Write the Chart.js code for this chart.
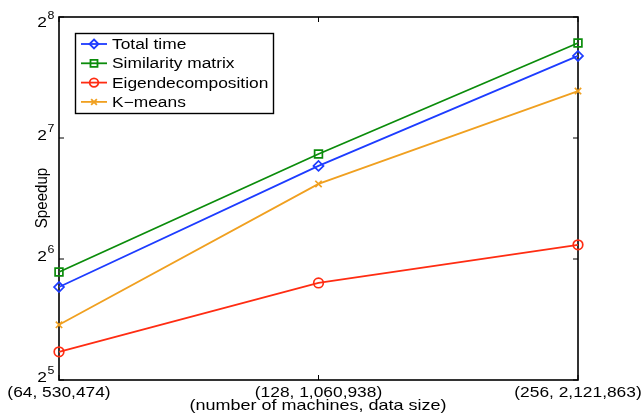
<!DOCTYPE html>
<html>
<head>
<meta charset="utf-8">
<script src="https://cdn.jsdelivr.net/npm/chart.js@4"></script>
<style>
	html, body { margin: 0; padding: 0; background: #fff; }
</style>
</head>
<body>
<canvas id="speedup" width="644" height="413"></canvas>
<script>
//setup
const machines = ["(64, 530,474)", "(128, 1,060,938)", "(256, 2,121,863)"];
const totalTime = [54.5, 109.1, 204.8];
const similarityMatrix = [59.4, 116.8, 220.6];
const eigendecomposition = [37.6, 55.8, 69.4];
const kMeans = [43.9, 98.4, 167.5];
const yTicks = [32, 64, 128, 256];
const yTickExp = ["5", "6", "7", "8"];

const FONT = "'Liberation Sans', Arial, sans-serif";
const SX = 1.24; // picture is stretched sideways, text too

function stretchText(ctx, str, x, y, size, align) {
	ctx.save();
	ctx.translate(x, y);
	ctx.scale(SX, 1);
	ctx.font = size + "px " + FONT;
	ctx.textAlign = align;
	ctx.textBaseline = "alphabetic";
	ctx.fillStyle = "#000";
	ctx.fillText(str, 0, 0);
	ctx.restore();
}

function marker(ctx, style, r, x, y) {
	ctx.beginPath();
	if (style === "rectRot") {
		ctx.moveTo(x, y - r);
		ctx.lineTo(x + r, y);
		ctx.lineTo(x, y + r);
		ctx.lineTo(x - r, y);
		ctx.closePath();
	} else if (style === "rect") {
		const s = r * Math.SQRT1_2;
		ctx.rect(x - s, y - s, 2 * s, 2 * s);
	} else if (style === "circle") {
		ctx.arc(x, y, r, 0, Math.PI * 2);
	} else {
		const s = r * Math.SQRT1_2;
		ctx.moveTo(x - s, y - s);
		ctx.lineTo(x + s, y + s);
		ctx.moveTo(x + s, y - s);
		ctx.lineTo(x - s, y + s);
	}
	ctx.stroke();
}

function series(label, values, color, style, radius) {
	return {
		label: label,
		data: values,
		borderColor: color,
		borderWidth: 1.8,
		pointStyle: style,
		pointRadius: radius,
		pointBorderColor: color,
		pointBackgroundColor: "rgba(0,0,0,0)",
		pointBorderWidth: 1.7,
		tension: 0,
		clip: false,
	};
}

const data = {
	labels: machines,
	datasets: [
		series("Total time", totalTime, "#1d3cff", "rectRot", 5),
		series("Similarity matrix", similarityMatrix, "#0b8c0b", "rect", 5.5),
		series("Eigendecomposition", eigendecomposition, "#ff2c12", "circle", 4.8),
		series("K\u2212means", kMeans, "#f0a020", "crossRot", 4.5),
	],
};

//box + inward ticks, matlab style
const frame = {
	id: "frame",
	beforeDatasetsDraw(chart) {
		const {
			ctx,
			chartArea: { left, right, top, bottom },
			scales: { x, y },
		} = chart;
		ctx.save();
		ctx.strokeStyle = "#000";
		ctx.lineWidth = 1.6;
		ctx.strokeRect(left, top, right - left, bottom - top);
		ctx.lineWidth = 1;
		ctx.beginPath();
		machines.forEach((m, i) => {
			const px = x.getPixelForValue(i);
			ctx.moveTo(px, bottom);
			ctx.lineTo(px, bottom - 5);
			ctx.moveTo(px, top);
			ctx.lineTo(px, top + 5);
		});
		yTicks.forEach((v) => {
			const py = y.getPixelForValue(v);
			ctx.moveTo(left, py);
			ctx.lineTo(left + 5, py);
			ctx.moveTo(right, py);
			ctx.lineTo(right - 5, py);
		});
		ctx.stroke();
		ctx.restore();
	},
};

//axis texts
const axisText = {
	id: "axisText",
	afterDraw(chart) {
		const {
			ctx,
			chartArea: { top },
			scales: { x, y },
		} = chart;
		machines.forEach((m, i) => {
			stretchText(ctx, m, x.getPixelForValue(i), 397, 14, "center");
		});
		stretchText(ctx, "(number of machines, data size)", 318, 410, 14.5, "center");

		yTicks.forEach((v, i) => {
			const py = y.getPixelForValue(v);
			const base = Math.max(py + 2, top + 10);
			stretchText(ctx, "2", 47, base, 14, "right");
			stretchText(ctx, yTickExp[i], 47.5, base - 8, 10, "left");
		});

		ctx.save();
		ctx.translate(42, 198);
		ctx.rotate(-Math.PI / 2);
		ctx.scale(1.08, 1.2);
		ctx.font = "14px " + FONT;
		ctx.textAlign = "center";
		ctx.textBaseline = "middle";
		ctx.fillStyle = "#000";
		ctx.fillText("Speedup", 0, 0);
		ctx.restore();
	},
};

//legend box top left
const legendBox = {
	id: "legendBox",
	afterDatasetsDraw(chart) {
		const { ctx } = chart;
		ctx.save();
		ctx.fillStyle = "#fff";
		ctx.fillRect(75, 33, 198, 80);
		ctx.strokeStyle = "#000";
		ctx.lineWidth = 1.4;
		ctx.strokeRect(75.5, 33.5, 198, 80);
		chart.data.datasets.forEach((ds, i) => {
			const ly = 44 + i * 19.3;
			ctx.strokeStyle = ds.borderColor;
			ctx.lineWidth = ds.borderWidth;
			ctx.beginPath();
			ctx.moveTo(81, ly);
			ctx.lineTo(107, ly);
			ctx.stroke();
			marker(ctx, ds.pointStyle, ds.pointRadius * 0.9, 94, ly);
			stretchText(ctx, ds.label, 112, ly + 5, 14, "left");
		});
		ctx.restore();
	},
};

//config
const config = {
	type: "line",
	data,
	options: {
		responsive: false,
		animation: false,
		layout: {
			padding: { top: 17, right: 66, left: 0, bottom: 0 },
		},
		scales: {
			x: {
				type: "category",
				offset: false,
				grid: { display: false },
				border: { display: false },
				ticks: { display: false },
				afterFit(scale) {
					scale.height = 33;
				},
			},
			y: {
				type: "logarithmic",
				min: 32,
				max: 256,
				grid: { display: false },
				border: { display: false },
				ticks: { display: false },
				afterBuildTicks(scale) {
					scale.ticks = yTicks.map((v) => ({ value: v }));
				},
				afterFit(scale) {
					scale.width = 59;
				},
			},
		},
		plugins: {
			legend: { display: false },
			tooltip: { enabled: false },
		},
	},
	plugins: [frame, axisText, legendBox],
};

//render init
const speedChart = new Chart(document.getElementById("speedup"), config);
</script>
</body>
</html>
